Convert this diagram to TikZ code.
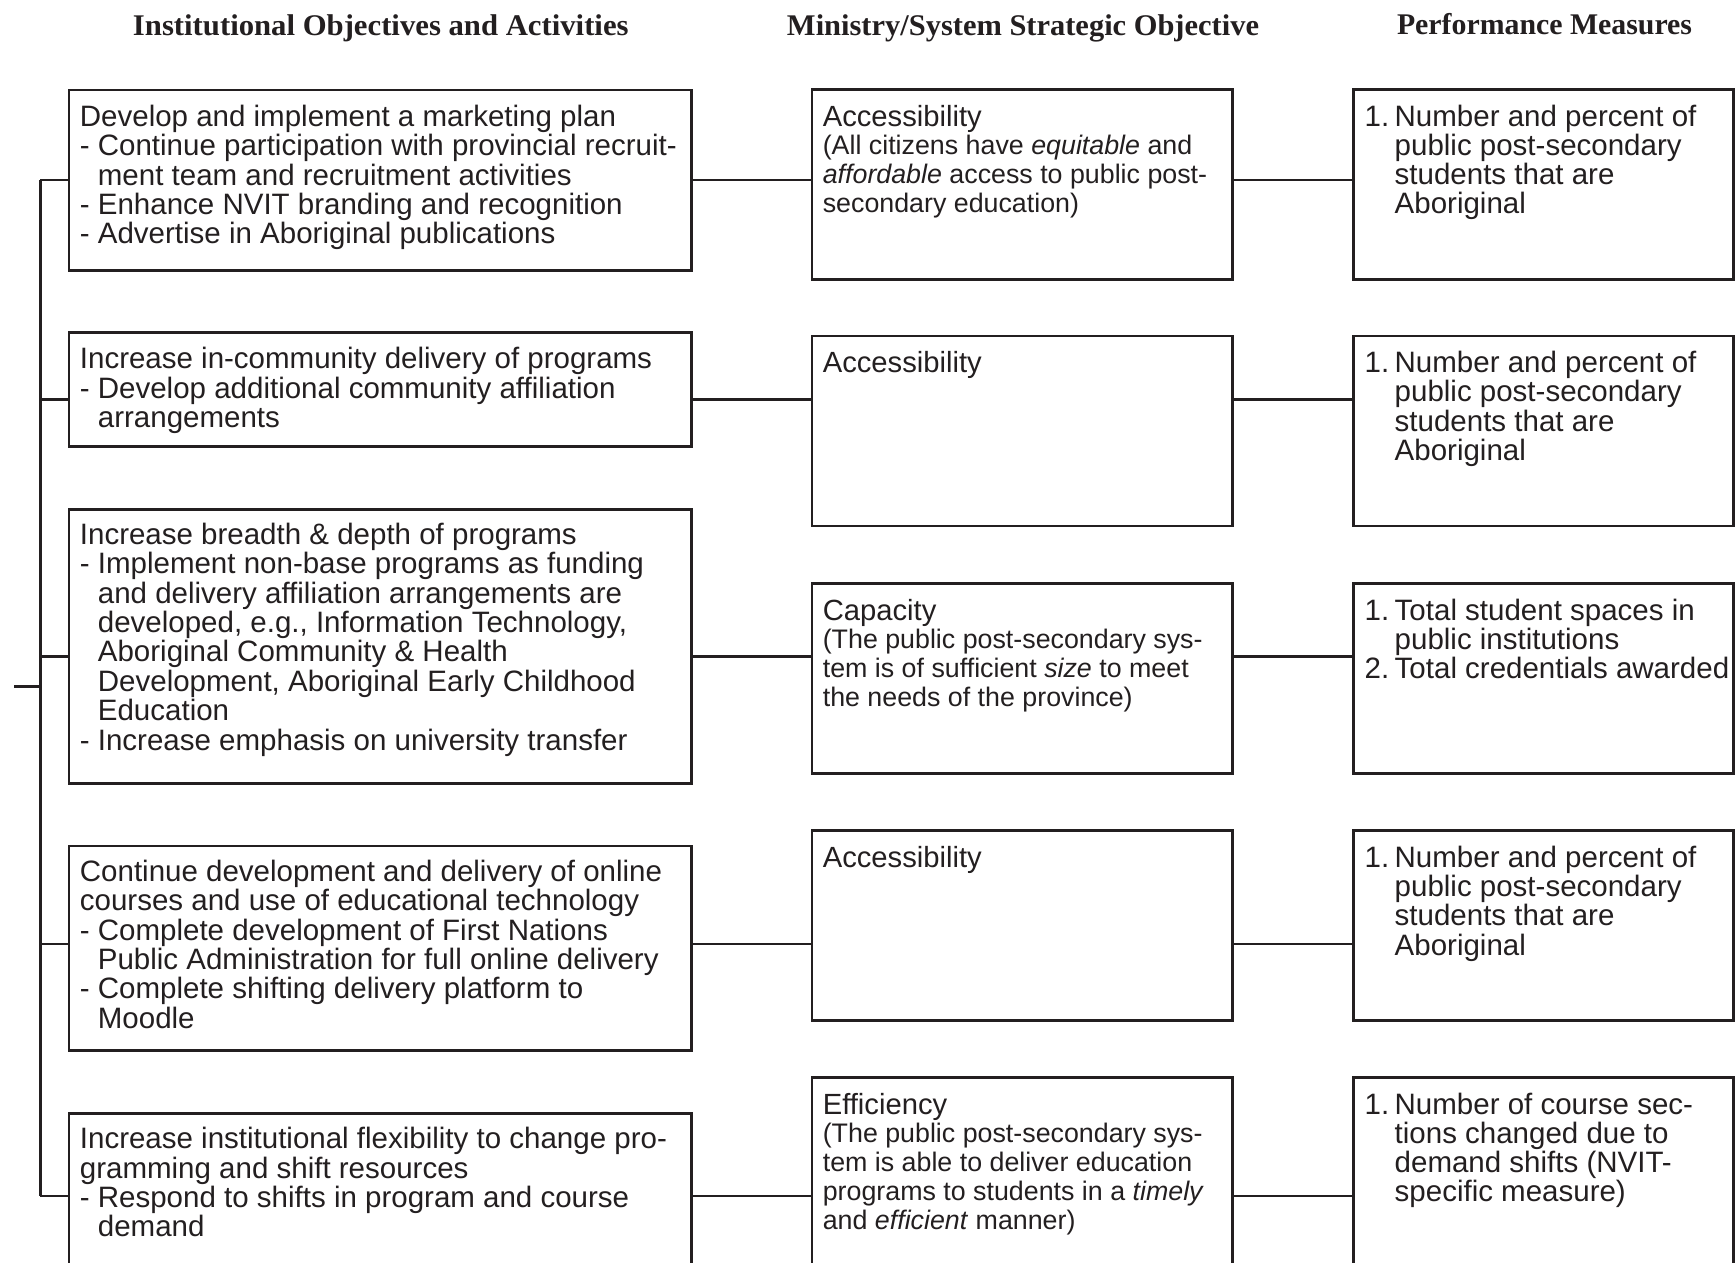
\documentclass[tikz,border=0pt]{standalone}
\usepackage{fontspec}
\setmainfont{Liberation Sans}
\newfontfamily\titlefont{Liberation Serif}
\usepackage{graphicx}
\definecolor{ink}{RGB}{35,31,32}
\newcommand\bodytext[2][29.3]{\parbox[t]{700pt}{\fontsize{29.5}{#1}\selectfont\raggedright #2}}
\newcommand\midtext[1]{\parbox[t]{700pt}{\fontsize{29.2}{28.8}\selectfont\raggedright #1}}
\newcommand\sm{\fontsize{26.8}{28.8}\selectfont}
\newcommand\hangg{\hphantom{-\ }}
\newcommand\numlab[1]{\makebox[30pt][l]{#1}}
\newcommand\numgap{\hspace*{30pt}}
\begin{document}
\begin{tikzpicture}[x=1pt,y=-1pt,
  box/.style={draw=ink, line width=2.6pt, rectangle, inner sep=0pt, outer sep=0pt, anchor=north west},
  lbox/.style={box, minimum width=622.8pt},
  mbox/.style={box, minimum width=420.5pt, minimum height=190pt},
  rbox/.style={box, minimum width=379.8pt, minimum height=190pt},
  conn/.style={draw=ink, line width=2.6pt},
  txt/.style={anchor=base west, inner sep=0pt, outer sep=0pt, text=ink},
  ttl/.style={anchor=base, inner sep=0pt, text=ink, font=\titlefont\bfseries\fontsize{30}{30}\selectfont},
]
\useasboundingbox (0,0) rectangle (1735,1263);
\clip (0,0) rectangle (1735,1263);
\fill[white] (0,0) rectangle (1735,1263);

% titles
\node[ttl] (t1) at (380.8,35) {\resizebox{495.6pt}{\height}{Institutional Objectives and Activities}};
\node[ttl] (t2) at (1023,35) {\resizebox{472pt}{\height}{Ministry/System Strategic Objective}};
\node[ttl] (t3) at (1544.5,35) {\resizebox{295pt}{\height}{Performance Measures}};

% left boxes
\node[lbox, minimum height=180.7pt] (L1) at (68.9,90) {};
\node[lbox, minimum height=114.4pt] (L2) at (68.9,332.3) {};
\node[lbox, minimum height=274pt] (L3) at (68.9,509.3) {};
\node[lbox, minimum height=204.7pt] (L4) at (68.9,846) {};
\node[lbox, minimum height=220pt] (L5) at (68.9,1113.3) {};

% middle boxes
\node[mbox] (M1) at (811.8,89.3) {};
\node[mbox] (M2) at (811.8,336) {};
\node[mbox] (M3) at (811.8,583.3) {};
\node[mbox] (M4) at (811.8,830.7) {};
\node[mbox, minimum height=220pt] (M5) at (811.8,1077.3) {};

% right boxes
\node[rbox] (R1) at (1353.7,89.3) {};
\node[rbox] (R2) at (1353.7,336) {};
\node[rbox] (R3) at (1353.7,583.3) {};
\node[rbox] (R4) at (1353.7,830.7) {};
\node[rbox, minimum height=220pt] (R5) at (1353.7,1077.3) {};

% left texts
\node[txt] (L1t) at ([shift={(11,36.5)}]L1.north west) {\bodytext{%
Develop and implement a marketing plan\\
- Continue participation with provincial recruit-\\
\hangg ment team and recruitment activities\\
- Enhance NVIT branding and recognition\\
- Advertise in Aboriginal publications}};
\node[txt] (L2t) at ([shift={(11,36.5)}]L2.north west) {\bodytext{%
Increase in-community delivery of programs\\
- Develop additional community affiliation\\
\hangg arrangements}};
\node[txt] (L3t) at ([shift={(11,35)}]L3.north west) {\bodytext[29.4]{%
Increase breadth \& depth of programs\\
- Implement non-base programs as funding\\
\hangg and delivery affiliation arrangements are\\
\hangg developed, e.g., Information Technology,\\
\hangg Aboriginal Community \& Health\\
\hangg Development, Aboriginal Early Childhood\\
\hangg Education\\
- Increase emphasis on university transfer}};
\node[txt] (L4t) at ([shift={(11,35.5)}]L4.north west) {\bodytext{%
Continue development and delivery of online\\
courses and use of educational technology\\
- Complete development of First Nations\\
\hangg Public Administration for full online delivery\\
- Complete shifting delivery platform to\\
\hangg Moodle}};
\node[txt] (L5t) at ([shift={(11,35.5)}]L5.north west) {\bodytext{%
Increase institutional flexibility to change pro-\\
gramming and shift resources\\
- Respond to shifts in program and course\\
\hangg demand}};

% middle texts
\node[txt] (M1t) at ([shift={(11,36.7)}]M1.north west) {\midtext{%
Accessibility\\
\sm(All citizens have \textit{equitable} and\\
\textit{affordable} access to public post-\\
secondary education)}};
\node[txt] (M2t) at ([shift={(11,36.7)}]M2.north west) {\midtext{Accessibility}};
\node[txt] (M3t) at ([shift={(11,36.7)}]M3.north west) {\midtext{%
Capacity\\
\sm(The public post-secondary sys-\\
tem is of sufficient \textit{size} to meet\\
the needs of the province)}};
\node[txt] (M4t) at ([shift={(11,36.7)}]M4.north west) {\midtext{Accessibility}};
\node[txt] (M5t) at ([shift={(11,36.7)}]M5.north west) {\midtext{%
Efficiency\\
\sm(The public post-secondary sys-\\
tem is able to deliver education\\
programs to students in a \textit{timely}\\
and \textit{efficient} manner)}};

% right texts
\node[txt] (R1t) at ([shift={(11,36.7)}]R1.north west) {\bodytext[29.2]{%
\numlab{1.}Number and percent of\\
\numgap public post-secondary\\
\numgap students that are\\
\numgap Aboriginal}};
\node[txt] (R2t) at ([shift={(11,36.7)}]R2.north west) {\bodytext[29.2]{%
\numlab{1.}Number and percent of\\
\numgap public post-secondary\\
\numgap students that are\\
\numgap Aboriginal}};
\node[txt] (R3t) at ([shift={(11,36.7)}]R3.north west) {\bodytext[29.2]{%
\numlab{1.}Total student spaces in\\
\numgap public institutions\\
\numlab{2.}Total credentials awarded}};
\node[txt] (R4t) at ([shift={(11,36.7)}]R4.north west) {\bodytext[29.2]{%
\numlab{1.}Number and percent of\\
\numgap public post-secondary\\
\numgap students that are\\
\numgap Aboriginal}};
\node[txt] (R5t) at ([shift={(11,36.7)}]R5.north west) {\bodytext[29.2]{%
\numlab{1.}Number of course sec-\\
\numgap tions changed due to\\
\numgap demand shifts (NVIT-\\
\numgap specific measure)}};

% connector levels
\coordinate (b1) at (40.2,180);
\coordinate (b2) at (40.2,399.3);
\coordinate (b3) at (40.2,656.7);
\coordinate (b4) at (40.2,944);
\coordinate (b5) at (40.2,1196);
\coordinate (in) at (14.4,686.7);

% bracket
\draw[conn] (b1) -- (b5);
\draw[conn] (in) -- (in -| b1);
\foreach \i in {1,...,5} {
  \draw[conn] (b\i) -- (L\i.west |- b\i);
  \draw[conn] (L\i.east |- b\i) -- (M\i.west |- b\i);
  \draw[conn] (M\i.east |- b\i) -- (R\i.west |- b\i);
}
\end{tikzpicture}
\end{document}
